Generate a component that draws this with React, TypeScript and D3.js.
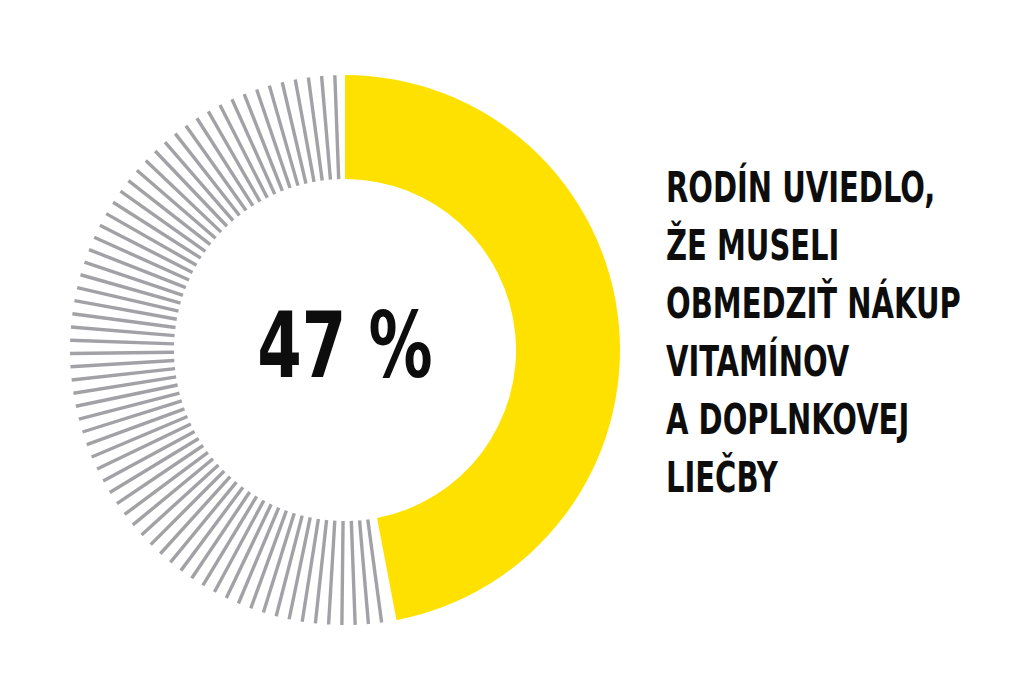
import { useRef, useEffect } from "react";
import * as d3 from "d3";

// share of families (percent)
const shareValue = 47;
const shareLabel = "47 %";
const captionLines = [
  "RODÍN UVIEDLO,",
  "ŽE MUSELI",
  "OBMEDZIŤ NÁKUP",
  "VITAMÍNOV",
  "A DOPLNKOVEJ",
  "LIEČBY",
];

const WIDTH = 1024;
const HEIGHT = 699;

function Donut() {
  const svgRef = useRef<SVGSVGElement>(null);

  useEffect(() => {
    const svg = d3.select(svgRef.current);
    svg.selectAll("*").remove();

    const cx = 345;
    const cy = 350;
    const outerR = 275;
    const innerR = 171;

    // percent -> angle (radians, clockwise from top)
    const angle = d3.scaleLinear().domain([0, 100]).range([0, 2 * Math.PI]);

    const g = svg.append("g").attr("transform", `translate(${cx},${cy})`);

    // yellow share arc
    const arc = d3.arc<any>().innerRadius(innerR).outerRadius(outerR);
    g.append("path")
      .attr("d", arc({ startAngle: angle(0), endAngle: angle(shareValue) }))
      .attr("fill", "#ffe100");

    // striped remainder
    const step = (2 * Math.PI) / 130;
    const gap = (2 * Math.PI) / 170;
    const rest = d3.range(2 * Math.PI - gap, angle(shareValue) + gap, -step);
    g.selectAll("line.stripe")
      .data(rest)
      .join("line")
      .attr("class", "stripe")
      .attr("x1", (a) => innerR * Math.sin(a))
      .attr("y1", (a) => -innerR * Math.cos(a))
      .attr("x2", (a) => outerR * Math.sin(a))
      .attr("y2", (a) => -outerR * Math.cos(a))
      .attr("stroke", "#a2a2a6")
      .attr("stroke-width", 3.4);

    // center label (condensed look)
    g.append("g")
      .attr("transform", "translate(0,27) scale(0.79,1)")
      .append("text")
      .attr("x", 0)
      .attr("y", 0)
      .attr("text-anchor", "middle")
      .attr("font-family", "'Liberation Sans Narrow', 'DejaVu Sans Condensed', sans-serif")
      .attr("font-weight", "bold")
      .attr("font-size", 90)
      .attr("fill", "#0d0d0d")
      .text(shareLabel);

    // caption on the right
    const cap = svg
      .append("g")
      .attr("transform", "translate(666,0) scale(0.75,1)");
    cap
      .selectAll("text")
      .data(captionLines)
      .join("text")
      .attr("x", 0)
      .attr("y", (_, i) => 202 + i * 58)
      .attr("font-family", "'Liberation Sans Narrow', 'DejaVu Sans Condensed', sans-serif")
      .attr("font-weight", "bold")
      .attr("font-size", 43)
      .attr("fill", "#0d0d0d")
      .text((d) => d);
  }, []);

  return <svg ref={svgRef} width={WIDTH} height={HEIGHT} style={{ display: "block", background: "#fff" }} />;
}

export default function App() {
  return (
    <div style={{ position: "absolute", left: 0, top: 0 }}>
      <Donut />
    </div>
  );
}
